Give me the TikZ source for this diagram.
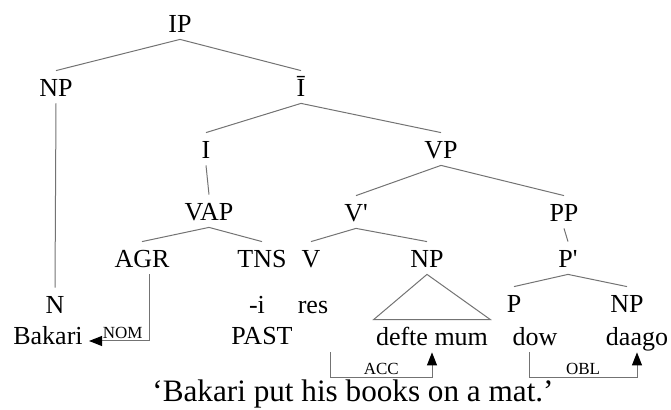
\documentclass[tikz,border=0pt]{standalone}
\usepackage{fontspec}
\setmainfont{Liberation Serif}[Ligatures=TeXOff]
\usetikzlibrary{arrows.meta,calc}

\begin{document}
\begin{tikzpicture}[x=0.5pt,y=-0.5pt,
  cat/.style={anchor=base,inner xsep=1pt,inner ysep=3pt,text height=10pt,
    text depth=0pt,font=\fontsize{13}{15}\selectfont},
  branch/.style={draw=black!55,line width=0.5pt},
  link/.style={draw=black!55,line width=0.5pt,
    -{Triangle[length=6.5pt,width=5pt,color=black]}},
  case/.style={font=\fontsize{8.5}{10}\selectfont,inner sep=1pt}]
  \useasboundingbox (0,0) rectangle (671,410);

  % categories
  \node[cat] (ip) at (180,33) {IP};
  \node[cat] (np1) at (56,97) {NP};
  \node[cat] (ibar) at (301,97) {Ī};
  \node[cat] (i) at (206,159) {I};
  \node[cat] (vp) at (441,159) {VP};
  \node[cat] (vap) at (209,221) {VAP};
  \node[cat] (vbar) at (356,222) {V'};
  \node[cat] (pp) at (564,222) {PP};
  \node[cat] (agr) at (142,268) {AGR};
  \node[cat] (tns) at (262,268) {TNS};
  \node[cat] (v) at (311,268) {V};
  \node[cat] (np2) at (427,268) {NP};
  \node[cat] (pbar) at (568,268) {P'};
  \node[cat] (p) at (514,313) {P};
  \node[cat] (np3) at (627,313) {NP};
  \node[cat] (n) at (55,314) {N};
  \node[cat] (tense) at (257,314) {-i};
  \node[cat] (res) at (313,314) {res};

  % words
  \node[cat] (bakari) at (48,345) {Bakari};
  \node[cat] (past) at (262,345) {PAST};
  \node[cat] (books) at (432,346) {defte mum};
  \node[cat] (dow) at (535,346) {dow};
  \node[cat] (daago) at (637,346) {daago};
  \node[cat,font=\fontsize{15.6}{18}\selectfont] (gloss) at (353,402)
    {‘Bakari put his books on a mat.’};

  \path[branch] (ip.south) edge (np1.north)
                edge (ibar.north);
  \path[branch] (ibar.south) edge (i.north)
                edge (vp.north);
  \path[branch] (vp.south) edge (vbar.north)
                edge (pp.north);
  \path[branch] (vap.south) edge (agr.north)
                edge (tns.north);
  \path[branch] (vbar.south) edge (v.north)
                edge (np2.north);
  \path[branch] (pbar.south) edge (p.north)
                edge (np3.north);
  \path[branch] (np1.south) edge (n.north);
  \path[branch] (i.south) edge (vap.north);
  \path[branch] (pp.south) edge (pbar.north);
  \draw[branch] (np2.south) -- (books.north west) -- (books.north east) -- cycle;

  % case links
  \draw[link] ([xshift=3.5pt]agr.south) |- node[case,pos=0.72,above] {NOM}
    ([xshift=2pt,yshift=2pt]bakari.base east);
  \draw[link] (res.south east |- books.south) -- ++(0,25) coordinate (acc1)
    -- (acc1 -| books.south) node[case,midway,above] {ACC} -- (books.south);
  \draw[link] ([xshift=-3pt]dow.south) -- ++(0,25) coordinate (obl1)
    -- (obl1 -| daago.south) node[case,midway,above] {OBL} -- (daago.south);
\end{tikzpicture}
\end{document}
